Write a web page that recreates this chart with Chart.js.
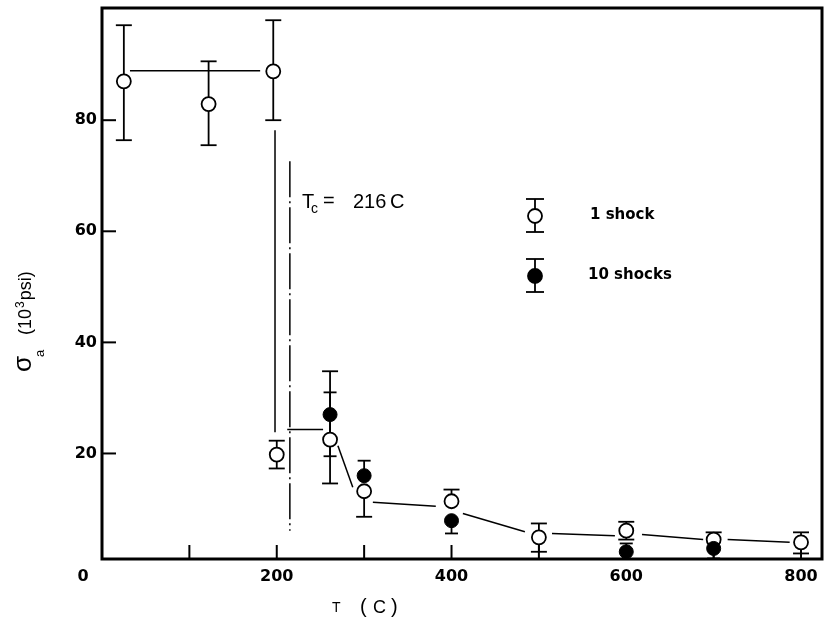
<!DOCTYPE html>
<html>
<head>
<meta charset="utf-8">
<script src="https://cdn.jsdelivr.net/npm/chart.js@4.4.1/dist/chart.umd.min.js"></script>
<style>
html,body{margin:0;padding:0;background:#fff;}
#wrap{width:825px;height:621px;position:relative;}
</style>
</head>
<body>
<div id="wrap"><canvas id="c"></canvas></div>
<script>
// ---- data ----
const xTickValues = [0, 100, 200, 300, 400, 500, 600, 700, 800];
const xTickLabels = ['0', '', '200', '', '400', '', '600', '', '800'];
const yTickValues = [20, 40, 60, 80];
const yTickLabels = ['20', '40', '60', '80'];

// 1 shock (open circles): temperature (C), strength (10^3 psi), error-bar ends
const oneShockT  = [25, 122, 196, 200, 261, 300, 400, 500, 600, 700, 800];
const oneShockS  = [87.0, 82.9, 88.8, 19.8, 22.5, 13.2, 11.4, 4.9, 6.1, 4.5, 4.0];
const oneShockHi = [97.1, 90.6, 98.0, 22.3, 34.8, null, 13.5, 7.4, 7.7, 5.8, 5.8];
const oneShockLo = [76.4, 75.5, 80.0, 17.3, 14.6, 8.6, null, 2.3, 4.5, null, 2.0];

// 10 shocks (filled circles)
const tenShockT  = [261, 300, 400, 600, 700];
const tenShockS  = [27.0, 16.0, 7.9, 2.3, 2.9];
const tenShockHi = [31.0, 18.7, null, 3.8, null];
const tenShockLo = [19.5, null, 5.6, null, 1.1];

// hand-drawn trend line segments (null = break)
const trendT = [32, 181, null, 198, 198, null, 212, 253, null, 270, 287, null, 310, 382, null, 413, 484, null, 515, 587, null, 618, 688, null, 716, 787];
const trendS = [88.9, 88.9, null, 78.2, 23.8, null, 24.3, 24.3, null, 21.4, 13.9, null, 11.2, 10.5, null, 9.2, 5.9, null, 5.6, 5.2, null, 5.4, 4.5, null, 4.5, 4.0];

// Curie temperature marker
const tcT = [215, 215];
const tcS = [72.6, 6.1];

const legendLabels = ['1 shock', '10 shocks'];

// ---- build datasets ----
function segments(xs, ys) {
  const out = []; let cur = [];
  xs.forEach((v, i) => {
    if (v === null || ys[i] === null) { if (cur.length) out.push(cur); cur = []; }
    else cur.push({x: v, y: ys[i]});
  });
  if (cur.length) out.push(cur);
  return out;
}
const pts = (xs, ys) => xs.map((v, i) => ({x: v, y: ys[i]}));

const datasets = [];
segments(trendT, trendS).forEach(seg => datasets.push({
  data: seg, showLine: true, borderColor: '#000', borderWidth: 1.5,
  pointRadius: 0, order: 5
}));
datasets.push({
  data: pts(tcT, tcS), showLine: true, borderColor: '#000', borderWidth: 1.5,
  borderDash: [36, 4, 2, 4], pointRadius: 0, order: 5
});
datasets.push({
  data: pts(oneShockT, oneShockS), showLine: false, pointRadius: 7,
  pointBackgroundColor: '#fff', pointBorderColor: '#000', pointBorderWidth: 1.8, order: 2
});
datasets.push({
  data: pts(tenShockT, tenShockS), showLine: false, pointRadius: 7,
  pointBackgroundColor: '#000', pointBorderColor: '#000', pointBorderWidth: 1, order: 1
});

const SANS = '"Liberation Sans", Arial, sans-serif';
const TICKFONT = 'bold 16px "DejaVu Sans", sans-serif';

function errBars(ctx, x, y, T, S, Hi, Lo, cap) {
  T.forEach((t, i) => {
    const px = x.getPixelForValue(t);
    const pc = y.getPixelForValue(S[i]);
    const ph = Hi[i] !== null ? y.getPixelForValue(Hi[i]) : pc;
    const pl = Lo[i] !== null ? y.getPixelForValue(Lo[i]) : pc;
    ctx.beginPath(); ctx.moveTo(px, ph); ctx.lineTo(px, pl); ctx.stroke();
    if (Hi[i] !== null) { ctx.beginPath(); ctx.moveTo(px - cap / 2, ph); ctx.lineTo(px + cap / 2, ph); ctx.stroke(); }
    if (Lo[i] !== null) { ctx.beginPath(); ctx.moveTo(px - cap / 2, pl); ctx.lineTo(px + cap / 2, pl); ctx.stroke(); }
  });
}

const decor = {
  id: 'decor',
  beforeDatasetsDraw(chart) {
    const {ctx, chartArea: a, scales: {x, y}} = chart;
    ctx.save();
    ctx.strokeStyle = '#000';
    ctx.lineWidth = 2;
    xTickValues.forEach(v => {
      if (v === 0) return;
      const px = x.getPixelForValue(v);
      ctx.beginPath(); ctx.moveTo(px, a.bottom); ctx.lineTo(px, a.bottom - 14); ctx.stroke();
    });
    yTickValues.forEach(v => {
      const py = y.getPixelForValue(v);
      ctx.beginPath(); ctx.moveTo(a.left, py); ctx.lineTo(a.left + 14, py); ctx.stroke();
    });
    ctx.lineWidth = 1.8;
    errBars(ctx, x, y, oneShockT, oneShockS, oneShockHi, oneShockLo, 16);
    errBars(ctx, x, y, tenShockT, tenShockS, tenShockHi, tenShockLo, 13);
    ctx.restore();
  },
  afterDraw(chart) {
    const {ctx, chartArea: a, scales: {x, y}} = chart;
    ctx.save();
    // frame
    ctx.strokeStyle = '#000';
    ctx.lineWidth = 3;
    ctx.strokeRect(a.left, a.top, a.right - a.left, a.bottom - a.top);

    // tick labels
    ctx.fillStyle = '#000';
    ctx.font = TICKFONT;
    ctx.textAlign = 'center'; ctx.textBaseline = 'middle';
    xTickValues.forEach((v, i) => {
      if (!xTickLabels[i]) return;
      const px = x.getPixelForValue(v) + (v === 0 ? -19 : 0);
      ctx.fillText(xTickLabels[i], px, a.bottom + 18);
    });
    ctx.textAlign = 'right';
    yTickValues.forEach((v, i) => {
      ctx.fillText(yTickLabels[i], a.left - 5, y.getPixelForValue(v));
    });

    // legend
    const legendItems = [{cy: 216, fill: '#fff'}, {cy: 276, fill: '#000'}];
    ctx.lineWidth = 1.8;
    legendItems.forEach((it, i) => {
      const cx = 535;
      ctx.beginPath(); ctx.moveTo(cx, it.cy - 17); ctx.lineTo(cx, it.cy + 16); ctx.stroke();
      ctx.beginPath(); ctx.moveTo(cx - 9, it.cy - 17); ctx.lineTo(cx + 9, it.cy - 17); ctx.stroke();
      ctx.beginPath(); ctx.moveTo(cx - 9, it.cy + 16); ctx.lineTo(cx + 9, it.cy + 16); ctx.stroke();
      ctx.beginPath(); ctx.arc(cx, it.cy, 7, 0, Math.PI * 2);
      ctx.fillStyle = it.fill; ctx.fill(); ctx.stroke();
      ctx.fillStyle = '#000';
      ctx.font = 'bold 15px "DejaVu Sans", sans-serif';
      ctx.textAlign = 'left'; ctx.textBaseline = 'middle';
      ctx.fillText(legendLabels[i], i === 0 ? 590 : 588, it.cy - 1);
    });

    // Tc label
    ctx.textBaseline = 'alphabetic'; ctx.textAlign = 'left';
    ctx.font = '20px ' + SANS;
    ctx.fillText('T', 302, 208);
    ctx.font = '14px ' + SANS;
    ctx.fillText('c', 311, 213);
    ctx.font = '20px ' + SANS;
    ctx.fillText('=', 323, 207);
    ctx.fillText('216', 353, 208);
    ctx.fillText('C', 390, 208);

    // x title
    ctx.font = '14px ' + SANS;
    ctx.fillText('T', 332, 612);
    ctx.font = '20px ' + SANS;
    ctx.fillText('(', 360, 613);
    ctx.font = '18px ' + SANS;
    ctx.fillText('C', 373, 613);
    ctx.font = '20px ' + SANS;
    ctx.fillText(')', 391, 613);

    // y title (rotated)
    ctx.translate(31, 372);
    ctx.rotate(-Math.PI / 2);
    ctx.font = '26px ' + SANS;
    ctx.fillText('\u03C3', 0, 0);
    ctx.font = '13px ' + SANS;
    ctx.fillText('a', 15, 13);
    ctx.font = '18px ' + SANS;
    ctx.fillText('(10', 37, 0);
    let tx = 37 + ctx.measureText('(10').width + 1;
    ctx.font = '12px ' + SANS;
    ctx.fillText('3', tx, -7);
    tx += ctx.measureText('3').width + 1;
    ctx.font = '18px ' + SANS;
    ctx.fillText('psi)', tx, 0);
    ctx.restore();
  }
};

new Chart(document.getElementById('c'), {
  type: 'scatter',
  data: {datasets},
  options: {
    responsive: true,
    maintainAspectRatio: false,
    animation: false,
    layout: {autoPadding: false, padding: {top: 8, right: 3, left: 0, bottom: 0}},
    plugins: {legend: {display: false}, tooltip: {enabled: false}},
    scales: {
      x: {
        type: 'linear', min: 0, max: 824,
        grid: {display: false, drawTicks: false},
        border: {display: false},
        ticks: {display: false},
        afterBuildTicks: s => { s.ticks = xTickValues.map(v => ({value: v})); },
        afterFit: s => { s.height = 62; }
      },
      y: {
        type: 'linear', min: 1, max: 100.2,
        grid: {display: false, drawTicks: false},
        border: {display: false},
        ticks: {display: false},
        afterBuildTicks: s => { s.ticks = yTickValues.map(v => ({value: v})); },
        afterFit: s => { s.width = 102; }
      }
    }
  },
  plugins: [decor]
});
</script>
</body>
</html>
